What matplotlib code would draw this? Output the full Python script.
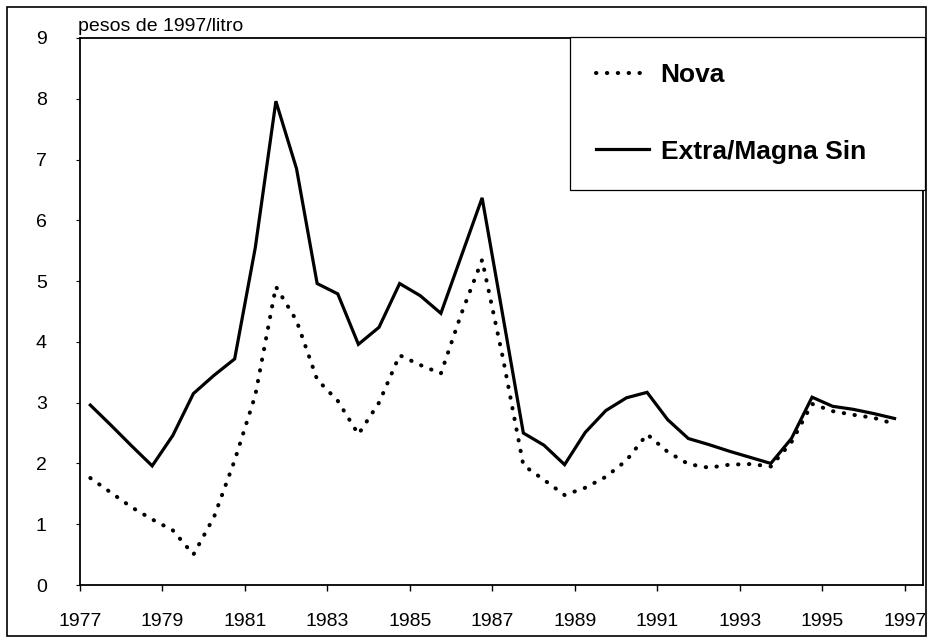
import numpy as np
import matplotlib
matplotlib.use("Agg")
import matplotlib.pyplot as plt
from matplotlib.patches import Rectangle

plt.rcParams['font.family'] = ['Liberation Sans', 'DejaVu Sans']

# semesters 1977-I ... 1996-II
years = list(range(1977, 1997))
semesters = [0.25, 0.75]
x = [y + s for y in years for s in semesters]

nova = [1.76, 1.52, 1.28, 1.08, 0.90, 0.50, 1.12, 2.05, 3.12, 4.91,
        4.35, 3.38, 3.03, 2.48, 3.00, 3.78, 3.62, 3.48, 4.47, 5.35,
        3.75, 1.97, 1.73, 1.48, 1.60, 1.78, 2.05, 2.48, 2.19, 1.99,
        1.93, 1.98, 1.99, 1.95, 2.35, 2.98, 2.86, 2.80, 2.75, 2.65]

extra = [2.96, 2.63, 2.29, 1.96, 2.46, 3.15, 3.45, 3.72, 5.55, 7.96,
         6.85, 4.96, 4.79, 3.96, 4.24, 4.96, 4.76, 4.47, 5.42, 6.37,
         4.44, 2.50, 2.30, 1.98, 2.51, 2.87, 3.08, 3.17, 2.72, 2.41,
         2.31, 2.20, 2.10, 2.00, 2.41, 3.09, 2.94, 2.89, 2.82, 2.74]

xticks = list(range(1977, 1998, 2))
yticks = list(range(0, 10))

W, H = 928, 639
fig = plt.figure(figsize=(W / 100, H / 100), dpi=100)
L, R, T, B = 80, 923, 38, 585
ax = fig.add_axes([L / W, 1 - B / H, (R - L) / W, (B - T) / H])

ax.plot(x, nova, color='black', lw=2.9, linestyle=(0, (0.1, 2.6)),
        dash_capstyle='round', label='Nova', zorder=3)
ax.plot(x, extra, color='black', lw=2.3, solid_joinstyle='miter',
        label='Extra/Magna Sin', zorder=3)

ax.set_xlim(1977, 1997.44)
ax.set_ylim(0, 9)
ax.set_xticks(xticks)
ax.set_yticks(yticks)
ax.tick_params(axis='x', direction='out', length=4, width=1, pad=16, labelsize=14)
ax.tick_params(axis='y', direction='out', length=3, width=0.8, pad=21, labelsize=14)
for s in ax.spines.values():
    s.set_linewidth(1.3)
    s.set_color('black')

fig.text(78 / W, 1 - 31 / H, 'pesos de 1997/litro', fontsize=14,
         ha='left', va='baseline')

leg = ax.legend(loc='upper left',
                bbox_to_anchor=(570 / W, 1 - 187 / H, 355 / W, 150 / H),
                bbox_transform=fig.transFigure, mode='expand',
                borderaxespad=0, frameon=True, fancybox=False,
                edgecolor='black', framealpha=1, facecolor='white',
                prop={'weight': 'bold', 'size': 19},
                handlelength=2.0, handletextpad=0.45, borderpad=0.98,
                labelspacing=2.0)
leg.get_frame().set_linewidth(0.9)
leg.set_zorder(10)

# outer frame of the figure
fig.patches.append(Rectangle((7 / W, 3 / H), 919 / W, 629 / H,
                             transform=fig.transFigure, fill=False,
                             edgecolor='black', lw=1.2))

fig.savefig('out.png', dpi=100)
